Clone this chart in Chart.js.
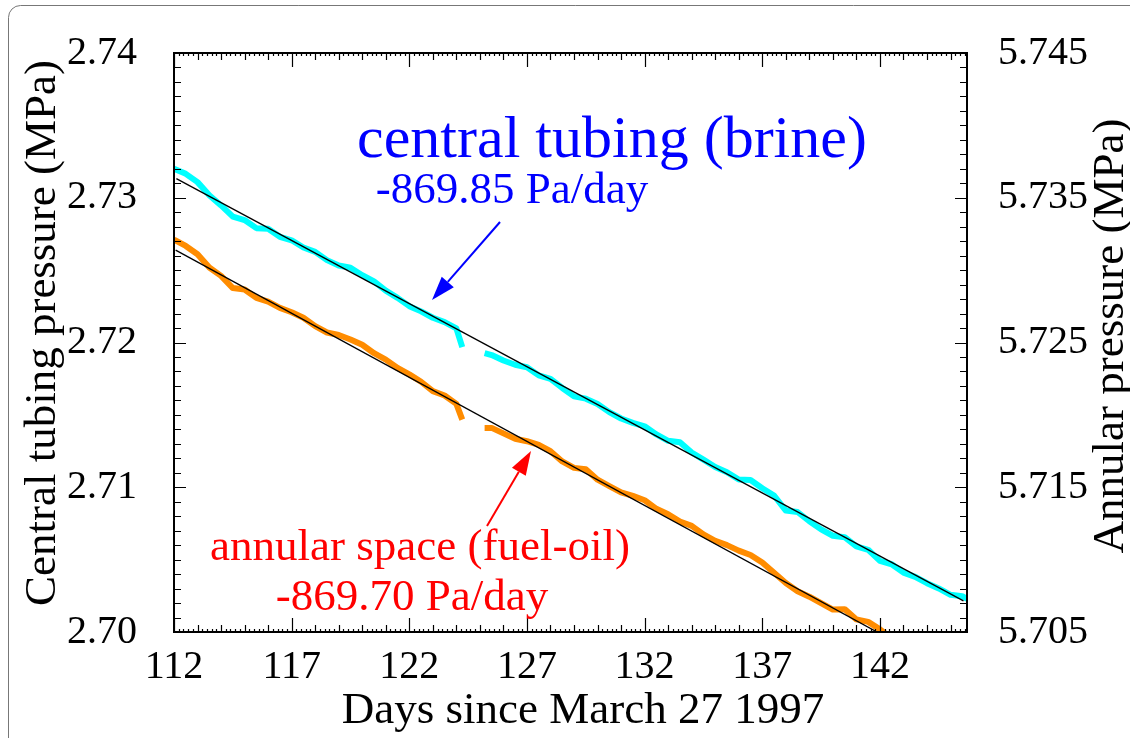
<!DOCTYPE html>
<html>
<head>
<meta charset="utf-8">
<title>Central tubing and annular pressure</title>
<script src="https://cdn.jsdelivr.net/npm/chart.js@4.4.0/dist/chart.umd.min.js"></script>
<style>
  html, body { margin: 0; padding: 0; background: #fff; }
  #wrap { position: relative; width: 1130px; height: 738px; }
</style>
</head>
<body>
<div id="wrap"><canvas id="chart"></canvas></div>
<script>
// --- values ---
// central tubing (brine), left axis, MPa
const cyanDays = [112.0, 112.5, 113.0, 113.5, 114.0, 114.5, 115.0, 115.5, 116.0, 116.5,
  117.0, 117.5, 118.0, 118.5, 119.0, 119.5, 120.0, 120.5, 121.0, 121.5,
  122.0, 122.5, 123.0, 123.5, 124.0, 124.25, 124.6, 125.2, 125.5, 126.0,
  126.5, 127.0, 127.5, 128.0, 128.5, 129.0, 129.5, 130.0, 130.5, 131.0,
  131.5, 132.0, 132.5, 133.0, 133.5, 134.0, 134.5, 135.0, 135.5, 136.0,
  136.5, 137.0, 137.5, 138.0, 138.5, 139.0, 139.5, 140.0, 140.5, 141.0,
  141.5, 142.0, 142.5, 143.0, 143.5, 144.0, 144.5, 145.0, 145.5, 145.7];
const cyanMPa = [2.73201, 2.73165, 2.73108, 2.73018, 2.72947, 2.72870, 2.72846, 2.72790, 2.72786, 2.72730,
  2.72706, 2.72656, 2.72626, 2.72569, 2.72532, 2.72516, 2.72465, 2.72422, 2.72358, 2.72308,
  2.72251, 2.72215, 2.72171, 2.72141, 2.72097, 2.71968, null, 2.71926, 2.71913, 2.71876,
  2.71846, 2.71829, 2.71773, 2.71749, 2.71686, 2.71628, 2.71612, 2.71575, 2.71519, 2.71475,
  2.71445, 2.71421, 2.71365, 2.71321, 2.71311, 2.71240, 2.71191, 2.71140, 2.71104, 2.71053,
  2.71050, 2.70993, 2.70943, 2.70839, 2.70829, 2.70765, 2.70709, 2.70665, 2.70655, 2.70591,
  2.70568, 2.70491, 2.70468, 2.70410, 2.70381, 2.70337, 2.70301, 2.70257, 2.70247, 2.70229];

// annular space (fuel-oil), right axis, MPa
const orangeDays = [112.0, 112.5, 113.0, 113.5, 114.0, 114.5, 115.0, 115.5, 116.0, 116.5,
  117.0, 117.5, 118.0, 118.5, 119.0, 119.5, 120.0, 120.5, 121.0, 121.5,
  122.0, 122.5, 123.0, 123.5, 124.0, 124.25, 124.6, 125.2, 125.5, 126.0,
  126.5, 127.0, 127.5, 128.0, 128.5, 129.0, 129.5, 130.0, 130.5, 131.0,
  131.5, 132.0, 132.5, 133.0, 133.5, 134.0, 134.5, 135.0, 135.5, 136.0,
  136.5, 137.0, 137.5, 138.0, 138.5, 139.0, 139.5, 140.0, 140.5, 141.0,
  141.5, 142.0, 142.3];
const orangeMPa = [5.73211, 5.73167, 5.73110, 5.73018, 5.72960, 5.72876, 5.72866, 5.72808, 5.72783, 5.72739,
  5.72709, 5.72671, 5.72613, 5.72569, 5.72552, 5.72521, 5.72484, 5.72426, 5.72382, 5.72324,
  5.72280, 5.72229, 5.72164, 5.72134, 5.72076, 5.71967, null, 5.71910, 5.71910, 5.71872,
  5.71835, 5.71818, 5.71793, 5.71749, 5.71678, 5.71634, 5.71624, 5.71552, 5.71508, 5.71464,
  5.71440, 5.71410, 5.71351, 5.71314, 5.71263, 5.71233, 5.71174, 5.71130, 5.71100, 5.71062,
  5.71032, 5.70980, 5.70909, 5.70838, 5.70781, 5.70744, 5.70699, 5.70655, 5.70658, 5.70587,
  5.70570, 5.70518, 5.70480];

// fitted lines (black)
const cyanFitDays = [112.1, 145.55];
const cyanFitMPa = [2.73132, 2.70215];
const orangeFitDays = [112.07, 142.0];
const orangeFitMPa = [5.73138, 5.70489];

const xTicks = [112, 117, 122, 127, 132, 137, 142];
const leftTicks = [2.70, 2.71, 2.72, 2.73, 2.74];
const rightTicks = [5.705, 5.715, 5.725, 5.735, 5.745];

const SERIF = '"Liberation Serif", "Times New Roman", serif';

function pts(xs, ys) {
  return xs.map((x, i) => ({ x: x, y: ys[i] }));
}

function arrow(ctx, x0, y0, x1, y1, color) {
  const ang = Math.atan2(y1 - y0, x1 - x0);
  const len = 24, half = 8;
  const bx = x1 - len * Math.cos(ang), by = y1 - len * Math.sin(ang);
  ctx.strokeStyle = color;
  ctx.fillStyle = color;
  ctx.lineWidth = 2;
  ctx.beginPath();
  ctx.moveTo(x0, y0);
  ctx.lineTo(bx, by);
  ctx.stroke();
  ctx.beginPath();
  ctx.moveTo(x1, y1);
  ctx.lineTo(bx + half * Math.sin(ang), by - half * Math.cos(ang));
  ctx.lineTo(bx - half * Math.sin(ang), by + half * Math.cos(ang));
  ctx.closePath();
  ctx.fill();
}

// frame, tick marks, titles and notes
const decor = {
  id: "decor",
  afterDraw(chart) {
    const ctx = chart.ctx;
    const a = chart.chartArea;
    const xs = chart.scales.x, ys = chart.scales.y;
    ctx.save();

    // outer rounded frame
    ctx.strokeStyle = "#777";
    ctx.lineWidth = 1;
    ctx.beginPath();
    ctx.roundRect(8.5, 5.5, 1140, 745, 12);
    ctx.stroke();

    // tick marks
    ctx.strokeStyle = "#000";
    ctx.lineWidth = 1.2;
    ctx.beginPath();
    for (let i = 0; 112 + i * 0.2 <= xs.max + 1e-9; i++) {
      const d = 112 + i * 0.2;
      const px = Math.round(xs.getPixelForValue(d)) + 0.5;
      let len = 3;
      if (i % 25 === 0) len = 14;
      else if (i % 5 === 0) len = 7;
      ctx.moveTo(px, a.bottom); ctx.lineTo(px, a.bottom - len);
      ctx.moveTo(px, a.top); ctx.lineTo(px, a.top + len);
    }
    for (let i = 0; i <= 40; i++) {
      const py = Math.round(ys.getPixelForValue(2.70 + i * 0.001)) + 0.5;
      const len = i % 10 === 0 ? 12 : 7;
      ctx.moveTo(a.left, py); ctx.lineTo(a.left + len, py);
      ctx.moveTo(a.right, py); ctx.lineTo(a.right - len, py);
    }
    ctx.stroke();

    // plot box
    ctx.lineWidth = 2;
    ctx.strokeRect(a.left, a.top, a.right - a.left, a.bottom - a.top);

    // axis titles
    ctx.fillStyle = "#000";
    ctx.font = "45px " + SERIF;
    ctx.textAlign = "center";
    ctx.textBaseline = "alphabetic";
    ctx.fillText("Days since March 27 1997", 583, 723);
    ctx.save();
    ctx.translate(55, 333);
    ctx.rotate(-Math.PI / 2);
    ctx.fillText("Central tubing pressure (MPa)", 0, 0);
    ctx.restore();
    ctx.save();
    ctx.translate(1123, 336);
    ctx.rotate(-Math.PI / 2);
    ctx.fillText("Annular pressure (MPa)", 0, 0);
    ctx.restore();

    // notes
    ctx.fillStyle = "#0000ff";
    ctx.font = "60px " + SERIF;
    ctx.fillText("central tubing (brine)", 612, 157);
    ctx.font = "45px " + SERIF;
    ctx.fillText("-869.85 Pa/day", 512, 203);
    arrow(ctx, 500, 222, 432, 300, "#0000ff");

    ctx.fillStyle = "#ff0000";
    ctx.fillText("annular space (fuel-oil)", 420, 560);
    ctx.fillText("-869.70 Pa/day", 412, 610);
    arrow(ctx, 487, 526, 531, 451, "#ff0000");

    ctx.restore();
  }
};

new Chart(document.getElementById("chart"), {
  type: "line",
  data: {
    datasets: [
      { label: "fit brine", data: pts(cyanFitDays, cyanFitMPa), yAxisID: "y",
        borderColor: "#000", borderWidth: 1.3, pointRadius: 0, order: 0 },
      { label: "fit fuel-oil", data: pts(orangeFitDays, orangeFitMPa), yAxisID: "y2",
        borderColor: "#000", borderWidth: 1.3, pointRadius: 0, order: 0 },
      { label: "central tubing (brine)", data: pts(cyanDays, cyanMPa), yAxisID: "y",
        borderColor: "#00ffff", borderWidth: 6, pointRadius: 0, spanGaps: false,
        borderJoinStyle: "round", order: 1 },
      { label: "annular space (fuel-oil)", data: pts(orangeDays, orangeMPa), yAxisID: "y2",
        borderColor: "#ff8c00", borderWidth: 6, pointRadius: 0, spanGaps: false,
        borderJoinStyle: "round", order: 1 }
    ]
  },
  options: {
    responsive: true,
    maintainAspectRatio: false,
    animation: false,
    layout: { padding: { top: 36, left: 0, right: 0, bottom: 0 } },
    plugins: { legend: { display: false }, tooltip: { enabled: false } },
    elements: { line: { tension: 0 } },
    scales: {
      x: {
        type: "linear", min: 112, max: 145.7,
        grid: { display: false }, border: { display: false },
        afterBuildTicks: axis => { axis.ticks = xTicks.map(v => ({ value: v })); },
        afterFit: axis => { axis.height = 106; },
        ticks: { autoSkip: false, maxRotation: 0, padding: 3, color: "#000",
          font: { family: SERIF, size: 40 } }
      },
      y: {
        type: "linear", position: "left", min: 2.70, max: 2.74,
        grid: { display: false }, border: { display: false },
        afterBuildTicks: axis => { axis.ticks = leftTicks.map(v => ({ value: v })); },
        afterFit: axis => { axis.width = 174; },
        ticks: { autoSkip: false, padding: 29, color: "#000",
          font: { family: SERIF, size: 40 }, callback: v => v.toFixed(2) }
      },
      y2: {
        type: "linear", position: "right", min: 5.705, max: 5.745,
        grid: { display: false }, border: { display: false },
        afterBuildTicks: axis => { axis.ticks = rightTicks.map(v => ({ value: v })); },
        afterFit: axis => { axis.width = 163; },
        ticks: { autoSkip: false, padding: 23, color: "#000",
          font: { family: SERIF, size: 40 }, callback: v => v.toFixed(3) }
      }
    }
  },
  plugins: [decor]
});
</script>
</body>
</html>
